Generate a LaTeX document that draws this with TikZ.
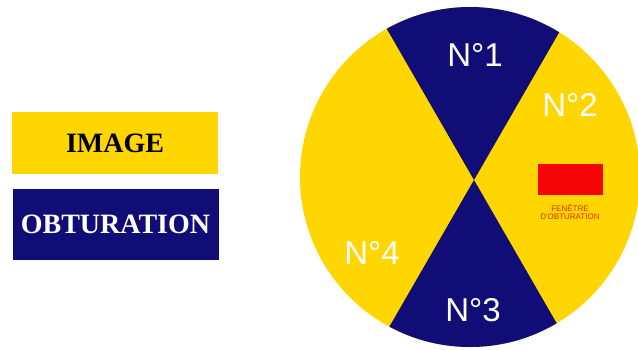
\documentclass[tikz,border=0pt]{standalone}
\usepackage{fontspec}
\setmainfont{Liberation Serif}
\newfontfamily\arialf{Liberation Sans}
\definecolor{disky}{RGB}{255,214,0}
\definecolor{disknavy}{RGB}{16,14,118}
\definecolor{winred}{RGB}{245,5,5}
\definecolor{labred}{RGB}{225,45,0}
\begin{document}
\begin{tikzpicture}[x=1pt,y=-1pt,
  legbox/.style={minimum width=206pt,inner sep=0pt,outer sep=0pt,font=\bfseries\fontsize{28}{30}\selectfont},
  secnum/.style={text=white,font=\arialf\fontsize{33}{35}\selectfont,inner sep=0pt},
  winlab/.style={text=labred,font=\arialf\fontsize{8}{9}\selectfont,inner sep=0pt}]
\useasboundingbox (0,0) rectangle (638,349);
\fill[white] (0,0) rectangle (638,349);
% legend
\node[legbox,fill=disky,minimum height=62pt,text=black] (img) at (115,143) {IMAGE};
\node[legbox,fill=disknavy,minimum height=71pt,text=white] (obt) at (115.5,224.5) {OBTURATION};
% disk
\coordinate (c) at (470,177);
\coordinate (x) at (474,180);
\fill[disky] (c) circle (170);
\begin{scope}
\clip (c) circle (170);
\fill[disknavy] (x) -- ++(150,-260) -- ++(-300,0) -- cycle;
\fill[disknavy] (x) -- ++(150,260) -- ++(-300,0) -- cycle;
\end{scope}
\node[secnum] (n1) at (475,55) {N°1};
\node[secnum] (n2) at (570,105) {N°2};
\node[secnum] (n3) at (473,310) {N°3};
\node[secnum] (n4) at (372,253) {N°4};
\node[fill=winred,minimum width=65pt,minimum height=31pt,inner sep=0pt] (win) at (570.5,179.5) {};
\node[winlab] (wl1) at (570,208) {FENÊTRE};
\node[winlab] (wl2) at (570,217) {D'OBTURATION};
\end{tikzpicture}
\end{document}
